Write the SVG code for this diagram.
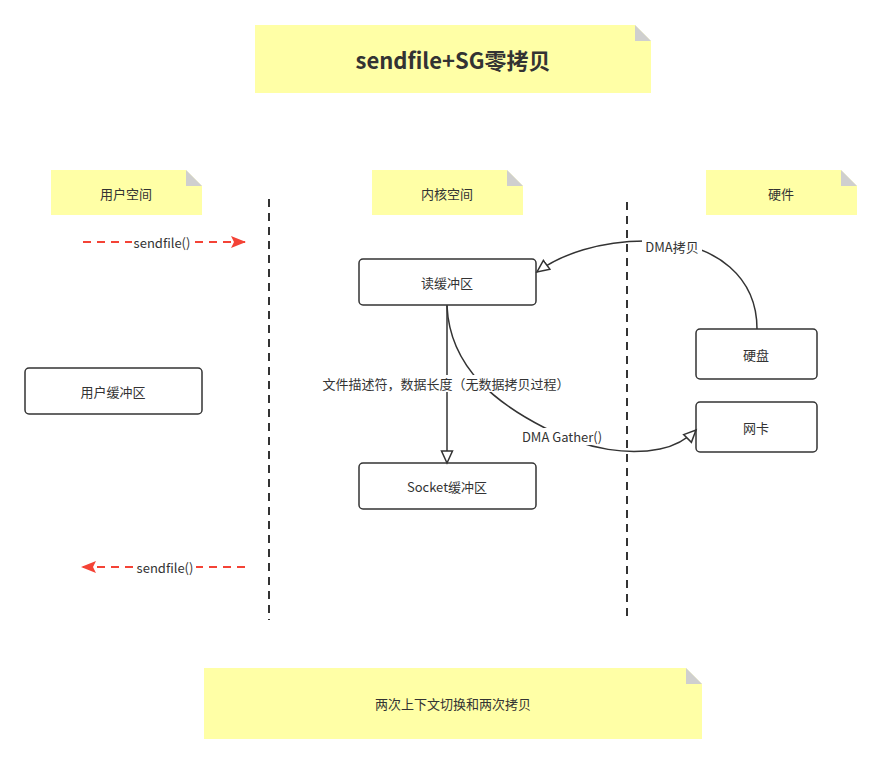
<svg xmlns="http://www.w3.org/2000/svg" width="882" height="764" viewBox="0 0 882 764">
<defs>
<style>
text{font-family:"Noto Sans CJK SC","Liberation Sans",sans-serif;font-size:13px;fill:#333;text-anchor:middle;dominant-baseline:central}
.note{fill:#ffffa6}
.fold{fill:#cfcfcf}
.box{fill:#fff;stroke:#333;stroke-width:1.5}
.sep{stroke:#333;stroke-width:2;stroke-dasharray:8 6;fill:none}
.edge{stroke:#333;stroke-width:1.5;fill:none}
.red{stroke:#f44336;stroke-width:2;stroke-dasharray:8 6;fill:none}
.lbl{fill:#fff}
</style>
<marker id="open" markerWidth="16" markerHeight="14" refX="13" refY="7" orient="auto" markerUnits="userSpaceOnUse">
<path d="M1,1.5 L13,7 L1,12.5 Z" fill="#fff" stroke="#333" stroke-width="1.5"/>
</marker>
<marker id="redTip" markerWidth="16" markerHeight="14" refX="15" refY="7" orient="auto" markerUnits="userSpaceOnUse">
<path d="M0,1 L15,7 L0,13 L3,7 Z" fill="#f44336"/>
</marker>
</defs>

<g id="title">
<path class="note" d="M255,25 H635 L651,41 V93 H255 Z"/>
<path class="fold" d="M635,25 L651,41 H635 Z"/>
<text x="453" y="59" style="font-size:22px;font-weight:bold">sendfile+SG零拷贝</text>
</g>

<g id="note-user">
<path class="note" d="M51,170 H186 L202,186 V215 H51 Z"/>
<path class="fold" d="M186,170 L202,186 H186 Z"/>
<text x="126" y="193">用户空间</text>
</g>
<g id="note-kernel">
<path class="note" d="M372,170 H507 L523,186 V215 H372 Z"/>
<path class="fold" d="M507,170 L523,186 H507 Z"/>
<text x="447" y="193">内核空间</text>
</g>
<g id="note-hw">
<path class="note" d="M706,170 H841 L857,186 V215 H706 Z"/>
<path class="fold" d="M841,170 L857,186 H841 Z"/>
<text x="781" y="193">硬件</text>
</g>

<g id="separators">
<line class="sep" x1="269" y1="199" x2="269" y2="620"/>
<line class="sep" x1="627" y1="202" x2="627" y2="618"/>
</g>

<g id="user-buffer">
<rect class="box" x="25" y="368" width="177" height="46" rx="4"/>
<text x="113" y="391">用户缓冲区</text>
</g>
<g id="read-buffer">
<rect class="box" x="359" y="259" width="177" height="46" rx="4"/>
<text x="447" y="282">读缓冲区</text>
</g>
<g id="socket-buffer">
<rect class="box" x="359" y="463" width="177" height="46" rx="4"/>
<text x="447" y="486">Socket缓冲区</text>
</g>
<g id="disk">
<rect class="box" x="696" y="329" width="121" height="50" rx="4"/>
<text x="756" y="354">硬盘</text>
</g>
<g id="nic">
<rect class="box" x="696" y="402" width="121" height="50" rx="4"/>
<text x="756" y="427">网卡</text>
</g>

<g id="connectors">
<path class="red" d="M83,242 H246" marker-end="url(#redTip)"/>
<rect class="lbl" x="132" y="234" width="61" height="16"/>
<text x="162" y="242">sendfile()</text>

<path class="red" d="M245,567 H81" marker-end="url(#redTip)"/>
<rect class="lbl" x="135" y="559" width="61" height="16"/>
<text x="165" y="567">sendfile()</text>

<path class="edge" d="M757,329 C757,280 720,242 650,241 C600,240 560,255 537,272" marker-end="url(#open)"/>
<rect class="lbl" x="642" y="238" width="60" height="16"/>
<text x="672" y="246">DMA拷贝</text>

<path class="edge" d="M447,305 V463" marker-end="url(#open)"/>

<path class="edge" d="M447,306 C450,370 500,405 545,428 C590,451 630,455 660,449 C680,445 690,436 696,430" marker-end="url(#open)"/>
<rect class="lbl" x="516" y="428" width="92" height="17"/>
<text x="562" y="436">DMA Gather()</text>

<rect class="lbl" x="322" y="375" width="248" height="17"/>
<text x="446" y="383">文件描述符，数据长度（无数据拷贝过程）</text>
</g>

<g id="note-bottom">
<path class="note" d="M204,668 H686 L702,684 V739 H204 Z"/>
<path class="fold" d="M686,668 L702,684 H686 Z"/>
<text x="453" y="703">两次上下文切换和两次拷贝</text>
</g>
</svg>
